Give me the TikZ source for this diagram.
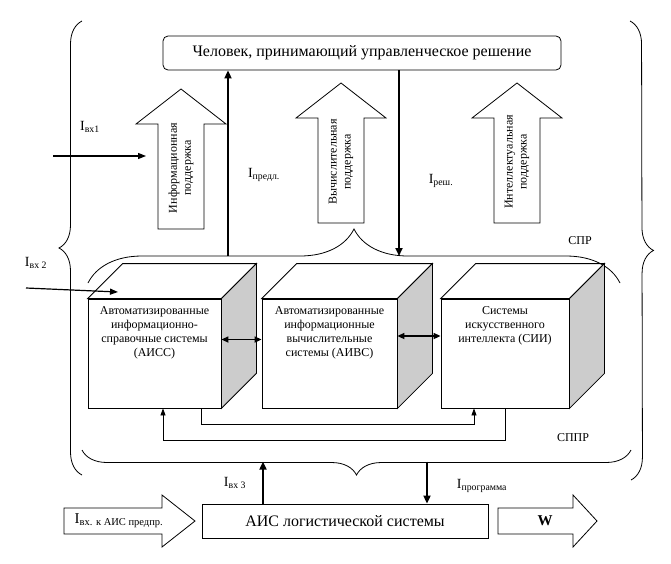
\documentclass[tikz,border=0pt]{standalone}
\usepackage{fontspec}
\setmainfont{Liberation Serif}
\usepackage{tikz}
\usetikzlibrary{calc,positioning,arrows.meta,decorations.pathreplacing}
\definecolor{sidegray}{RGB}{204,204,204}
\def\cubebody(#1){%
	\draw (#1.north west) -- ++(35,-35) -- ($(#1.north east)+(35,-35)$) -- (#1.north east) -- cycle;
	\draw[fill=sidegray] (#1.north east) -- ++(35,-35) -- ($(#1.south east)+(35,-35)$) -- (#1.south east) -- cycle;}
\def\supparrow(#1,#2){\draw ({#1-23},{#2+140}) -- ({#1-23},{#2+35}) -- ({#1-45},{#2+35}) -- (#1,#2) -- ({#1+45},{#2+35}) -- ({#1+23},{#2+35}) -- ({#1+23},{#2+140}) -- cycle;}

\begin{document}
\begin{tikzpicture}[x=1pt,y=-1pt,line width=0.8pt,
		facebox/.style={draw, fill=white, minimum width=#1, minimum height=109pt, inner sep=0pt},
		cubetext/.style={align=center, font=\fontsize{12}{14}\selectfont},
		supptext/.style={rotate=90, align=center, font=\fontsize{12}{14}\selectfont},
		sig/.style={font=\fontsize{14}{16}\selectfont},
		flow/.style={line width=1.8pt, -{Triangle[length=8pt,width=7pt]}},
		inflow/.style={line width=1.2pt, -{Triangle[length=8pt,width=6pt]}},
		loopline/.style={line width=0.8pt, -{Triangle[length=7pt,width=5pt]}},
		brace/.style={decorate, decoration={brace, amplitude=#1}}]
			%%%%% START %%%%%
			\useasboundingbox (0,0) rectangle (671,563);
			
			% outer braces
			\draw[brace=23pt] (82,475) -- (82,21);
			\draw[brace=23pt] (630,21) -- (631,480);
			
			\node[draw, rounded corners=5pt, minimum width=398pt, minimum height=34pt, font=\fontsize{16}{19}\selectfont] (lpr) at (362,53) {Человек, принимающий управленческое решение};
			
			% support arrows
			\supparrow(181,89)
			\supparrow(341,83)
			\supparrow(517,83)
			\node[supptext] (infosup) at (181,168) {Информационная\\поддержка};
			\node[supptext] (calcsup) at (341,162) {Вычислительная\\поддержка};
			\node[supptext] (intsup) at (517,162) {Интеллектуальная\\поддержка};
			
			% СПР brace
			\draw[brace=54pt] (88,283) -- (620,283);
			\node[font=\fontsize{12}{14}\selectfont] (spr) at (580,241) {СПР};
			
			% cubes
			\node[facebox=133pt] (aiss) at (154.5,353.5) {};
			\node[facebox=135pt] (aivs) at (329.5,353.5) {};
			\node[facebox=128pt] (sii) at (505,353.5) {};
			\cubebody(aiss)
			\cubebody(aivs)
			\cubebody(sii)
			\node[cubetext, below=4pt of aiss.north] (aisstext) {Автоматизированные\\информационно-\\справочные системы\\(АИСС)};
			\node[cubetext, below=4pt of aivs.north] (aivstext) {Автоматизированные\\информационные\\вычислительные\\системы (АИВС)};
			\node[cubetext, below=4pt of sii.north] (siitext) {Системы\\искусственного\\интеллекта (СИИ)};
			
			\draw[line width=1.6pt, {Triangle[length=7pt,width=6pt]}-{Triangle[length=7pt,width=6pt]}] ([yshift=14pt]aiss.east) -- ([yshift=14pt]aivs.west);
			\draw[line width=1.6pt, {Triangle[length=7pt,width=6pt]}-{Triangle[length=7pt,width=6pt]}] ([yshift=17.5pt]aivs.east) -- ([yshift=17.5pt]sii.west);
			
			\draw[loopline] ([xshift=46.5pt]aiss.south) -- ++(0,16) -| ([xshift=-31pt]sii.south);
			\draw[loopline] (sii.south) -- ++(0,32) -| ([xshift=8.5pt]aiss.south);
			
			% links to the decision maker
			\coordinate (predl) at (228,256);
			\coordinate (resh) at (399,256);
			\draw[flow] (predl) -- (predl |- lpr.south);
			\draw[flow] (resh |- lpr.south) -- (resh);
			\node[sig] (predllab) at (264,175) {I\textsubscript{предл.}};
			\node[sig] (reshlab) at (441,181) {I\textsubscript{реш.}};
			
			% inputs
			\coordinate (in1) at (53,156);
			\coordinate (in1end) at (146,156);
			\draw[inflow] (in1) -- (in1end);
			\node[sig] (in1lab) at (90,127) {I\textsubscript{вх1}};
			\coordinate (in2) at (26,288);
			\coordinate (in2end) at (118,292);
			\draw[inflow] (in2) -- (in2end);
			\node[sig] (in2lab) at (36,263) {I\textsubscript{вх 2}};
			
			% СППР brace
			\draw[brace=25pt] (631,450) -- (82,450);
			\node[font=\fontsize{12}{14}\selectfont] (sppr) at (573,438) {СППР};
			
			\node[draw, minimum width=286pt, minimum height=34pt, font=\fontsize{16}{19}\selectfont] (ais) at (345,521) {АИС логистической системы};
			\draw[flow] ([xshift=-82pt]ais.north) -- ++(0,-42);
			\draw[flow] ([xshift=82pt]ais.north) ++(0,-42) -- ([xshift=82pt]ais.north);
			\node[sig] (in3lab) at (235,483) {I\textsubscript{вх 3}};
			\node[sig] (proglab) at (482,486) {I\textsubscript{программа}};
			
			% enterprise input and output
			\draw (64,508) -- (162,508) -- (162,495) -- (195,521) -- (162,547) -- (162,534) -- (64,534) -- cycle;
			\node[font=\fontsize{15}{17}\selectfont, anchor=west] (inais) at (71,521) {I\textsubscript{вх. к АИС предпр.}};
			\draw (498,508) -- (573,508) -- (573,495) -- (597,521) -- (573,547) -- (573,534) -- (498,534) -- cycle;
			\node[font=\bfseries\fontsize{15}{18}\selectfont] (wout) at (545,521) {W};
			
			%%%%% END %%%%%
\end{tikzpicture}
\end{document}
